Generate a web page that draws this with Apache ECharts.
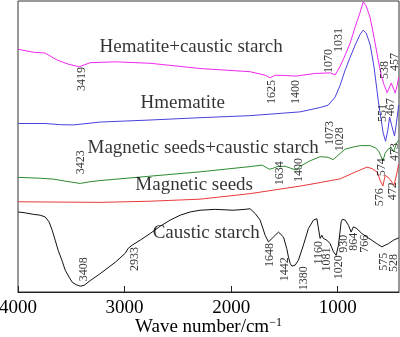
<!DOCTYPE html>
<html>
<head>
<meta charset="utf-8">
<script src="https://cdn.jsdelivr.net/npm/echarts@6/dist/echarts.min.js"></script>
<style>html,body{margin:0;padding:0;background:#fff}#c{width:400px;height:337px}</style>
</head>
<body>
<div id="c"></div>
<script>
// x ticks
const xTicks = [1000, 2000, 3000, 4000];

// Hematite + caustic starch
const hemStarchWn = [3998,3857,3745,3632,3529,3426,3323,3088,2760,2291,1822,1681,1634,1587,1493,1390,1212,1071,1024,977,930,883,836,789,761,733,695,658,620,592,564,536,517,498,479,460,441,428];
const hemStarchT  = [83.4,82.4,82.1,79.7,78.3,77.4,78.8,79.1,78.6,76.8,75.7,74.5,73.6,74.5,74.4,74.2,75.1,75.3,74.6,77.6,81.4,85.6,91.1,96.2,99.7,98.3,94.2,87.3,79.7,74.5,71.1,68.5,70.1,71.8,70.1,68.4,71.1,73.9];

// Hmematite
const hemWn = [3998,3745,3604,3482,3229,2760,2291,1822,1353,1165,1090,1024,977,930,883,836,789,761,733,695,658,620,592,573,551,530,513,494,467,448,428];
const hemT  = [57.9,57.9,57.5,57.4,58.4,59.1,59.9,60.6,61.9,63.4,64.2,67.0,71.1,76.3,80.7,84.9,88.6,90.0,89.0,84.9,77.0,65.9,59.1,54.6,51.8,55.6,60.1,57.3,53.6,58.4,64.2];

// Magnetic seeds + caustic starch
const magStarchWn = [3998,3792,3670,3557,3416,3323,3229,2760,2291,1822,1709,1643,1615,1568,1493,1446,1390,1353,1259,1165,1090,1043,996,930,855,789,695,639,611,576,555,527,498,475,451,428];
const magStarchT  = [39.4,39.1,38.8,38.1,37.3,37.9,38.3,39.8,41.3,43.1,43.6,42.2,42.4,43.1,43.2,42.6,41.9,43.2,45.1,46.5,46.3,45.5,47.0,49.1,49.8,50.3,50.3,49.4,48.1,45.0,47.7,49.1,49.6,48.2,50.8,52.2];

// Magnetic seeds
const magWn = [3998,3604,3229,2760,2291,1822,1353,1165,977,836,727,677,630,602,576,555,518,472,451,428];
const magT  = [31.0,30.9,30.8,31.2,31.9,33.8,36.4,37.6,38.9,41.2,42.9,42.4,41.2,38.4,36.4,40.1,39.1,36.7,39.8,43.9];

// Caustic starch
const starchWn = [3998,3932,3857,3792,3745,3707,3679,3651,3623,3585,3557,3520,3492,3454,3416,3379,3323,3229,3088,2994,2966,2929,2854,2760,2666,2572,2478,2385,2291,2150,1981,1869,1822,1775,1728,1681,1650,1603,1556,1509,1478,1462,1446,1431,1400,1369,1322,1275,1228,1196,1181,1165,1149,1134,1118,1102,1071,1040,1015,993,968,956,930,899,874,853,821,774,727,680,633,585,555,524,477,428];
const starchT  = [27.5,27.2,26.7,26.4,25.8,24.0,21.2,17.8,14.3,10.6,7.5,5.1,3.4,2.5,2.0,2.3,3.9,6.3,10.2,13.3,15.0,16.1,17.8,20.1,22.6,24.7,26.4,27.5,28.1,28.4,28.1,28.4,28.6,27.0,24.7,19.5,17.2,18.9,20.6,18.9,14.9,12.0,9.8,8.9,9.2,10.9,16.1,21.8,24.7,25.2,24.7,18.4,19.5,18.4,18.9,17.8,16.6,13.8,12.6,16.1,24.1,25.0,24.7,22.9,20.6,22.4,21.8,20.1,18.9,17.8,16.6,15.5,16.1,16.6,17.8,18.6];

// Peak labels: text, anchor wavenumber, anchor transmittance
const peakText = ['3419','1625','1400','1070','1031','538','457','551','467','3423','1634','1400','1073','1028','574','473','576','472','3408','2933','1648','1442','1380','1160','1081','1020','930','864','766','575','528'];
const peakWn   = [3401,1618,1393,1087,993,555,461,574,499,3407,1545,1362,1071,977,584,461,609,483,3386,2901,1634,1493,1322,1181,1102,993,946,853,743,571,477];
const peakT    = [73.2,68.7,68.7,79.4,86.6,76.3,79.0,61.5,63.5,44.6,40.8,41.9,54.6,52.5,42.9,48.1,32.6,34.6,7.8,11.3,12.7,7.8,4.7,13.5,11.2,8.5,16.6,17.3,16.6,10.4,10.0];

// Curve name labels
const nameText = ['Hematite+caustic starch','Hmematite','Magnetic seeds+caustic starch','Magnetic seeds','Caustic starch'];
const nameWn   = [2375,2455,2263,2347,2234];
const nameT    = [84.3,64.9,49.4,36.7,20.2];

const FONT = '"Liberation Serif","Times New Roman",serif';
const pair = (a, b) => a.map((w, i) => [w, b[i]]);

function lineSeries(name, wn, t, color) {
  return {
    name, type: 'line', data: pair(wn, t), showSymbol: false, symbol: 'none',
    lineStyle: { color, width: 1 }, silent: true, animation: false, z: 2
  };
}

const chart = echarts.init(document.getElementById('c'), null, { renderer: 'canvas' });
chart.setOption({
  backgroundColor: '#fff',
  animation: false,
  grid: { left: 18, right: 1, top: 1, bottom: 45, show: true, borderColor: '#333', borderWidth: 1, containLabel: false, outerBoundsMode: 'none' },
  xAxis: {
    type: 'value', inverse: true, min: 425, max: 4000,
    name: 'Wave number/cm{sup|−1}', nameLocation: 'middle', nameGap: 25, nameMoveOverlap: false,
    nameTextStyle: { fontFamily: FONT, fontSize: 19, color: '#000',
      rich: { sup: { fontFamily: FONT, fontSize: 12, color: '#000', verticalAlign: 'top', padding: [0, 0, 8, 0] } } },
    axisLine: { lineStyle: { color: '#222', width: 1 } },
    axisTick: { inside: true, length: 6, customValues: xTicks, lineStyle: { color: '#222' } },
    axisLabel: { customValues: xTicks, formatter: v => String(v), fontFamily: FONT, fontSize: 19, color: '#000', margin: 7, showMaxLabel: true, showMinLabel: true },
    splitLine: { show: false }
  },
  yAxis: {
    type: 'value', min: 0, max: 100,
    axisLine: { show: false }, axisTick: { show: false }, axisLabel: { show: false }, splitLine: { show: false }
  },
  series: [
    lineSeries('Hematite+caustic starch', hemStarchWn, hemStarchT, '#f028f0'),
    lineSeries('Hmematite', hemWn, hemT, '#4a40dc'),
    lineSeries('Magnetic seeds+caustic starch', magStarchWn, magStarchT, '#2e8a30'),
    lineSeries('Magnetic seeds', magWn, magT, '#e83a3a'),
    lineSeries('Caustic starch', starchWn, starchT, '#111'),
    {
      type: 'scatter', silent: true, symbolSize: 0, itemStyle: { color: 'rgba(0,0,0,0)' }, z: 3,
      data: peakWn.map((w, i) => ({ value: [w, peakT[i]], name: peakText[i] })),
      label: { show: true, position: 'inside', rotate: 90, formatter: p => p.name,
        fontFamily: FONT, fontSize: 12, color: '#000', align: 'center', verticalAlign: 'middle' }
    },
    {
      type: 'scatter', silent: true, symbolSize: 0, itemStyle: { color: 'rgba(0,0,0,0)' }, z: 3,
      data: nameWn.map((w, i) => ({ value: [w, nameT[i]], name: nameText[i] })),
      label: { show: true, position: 'inside', formatter: p => p.name,
        fontFamily: FONT, fontSize: 19, color: '#000', align: 'center', verticalAlign: 'middle' }
    }
  ]
});
</script>
</body>
</html>
